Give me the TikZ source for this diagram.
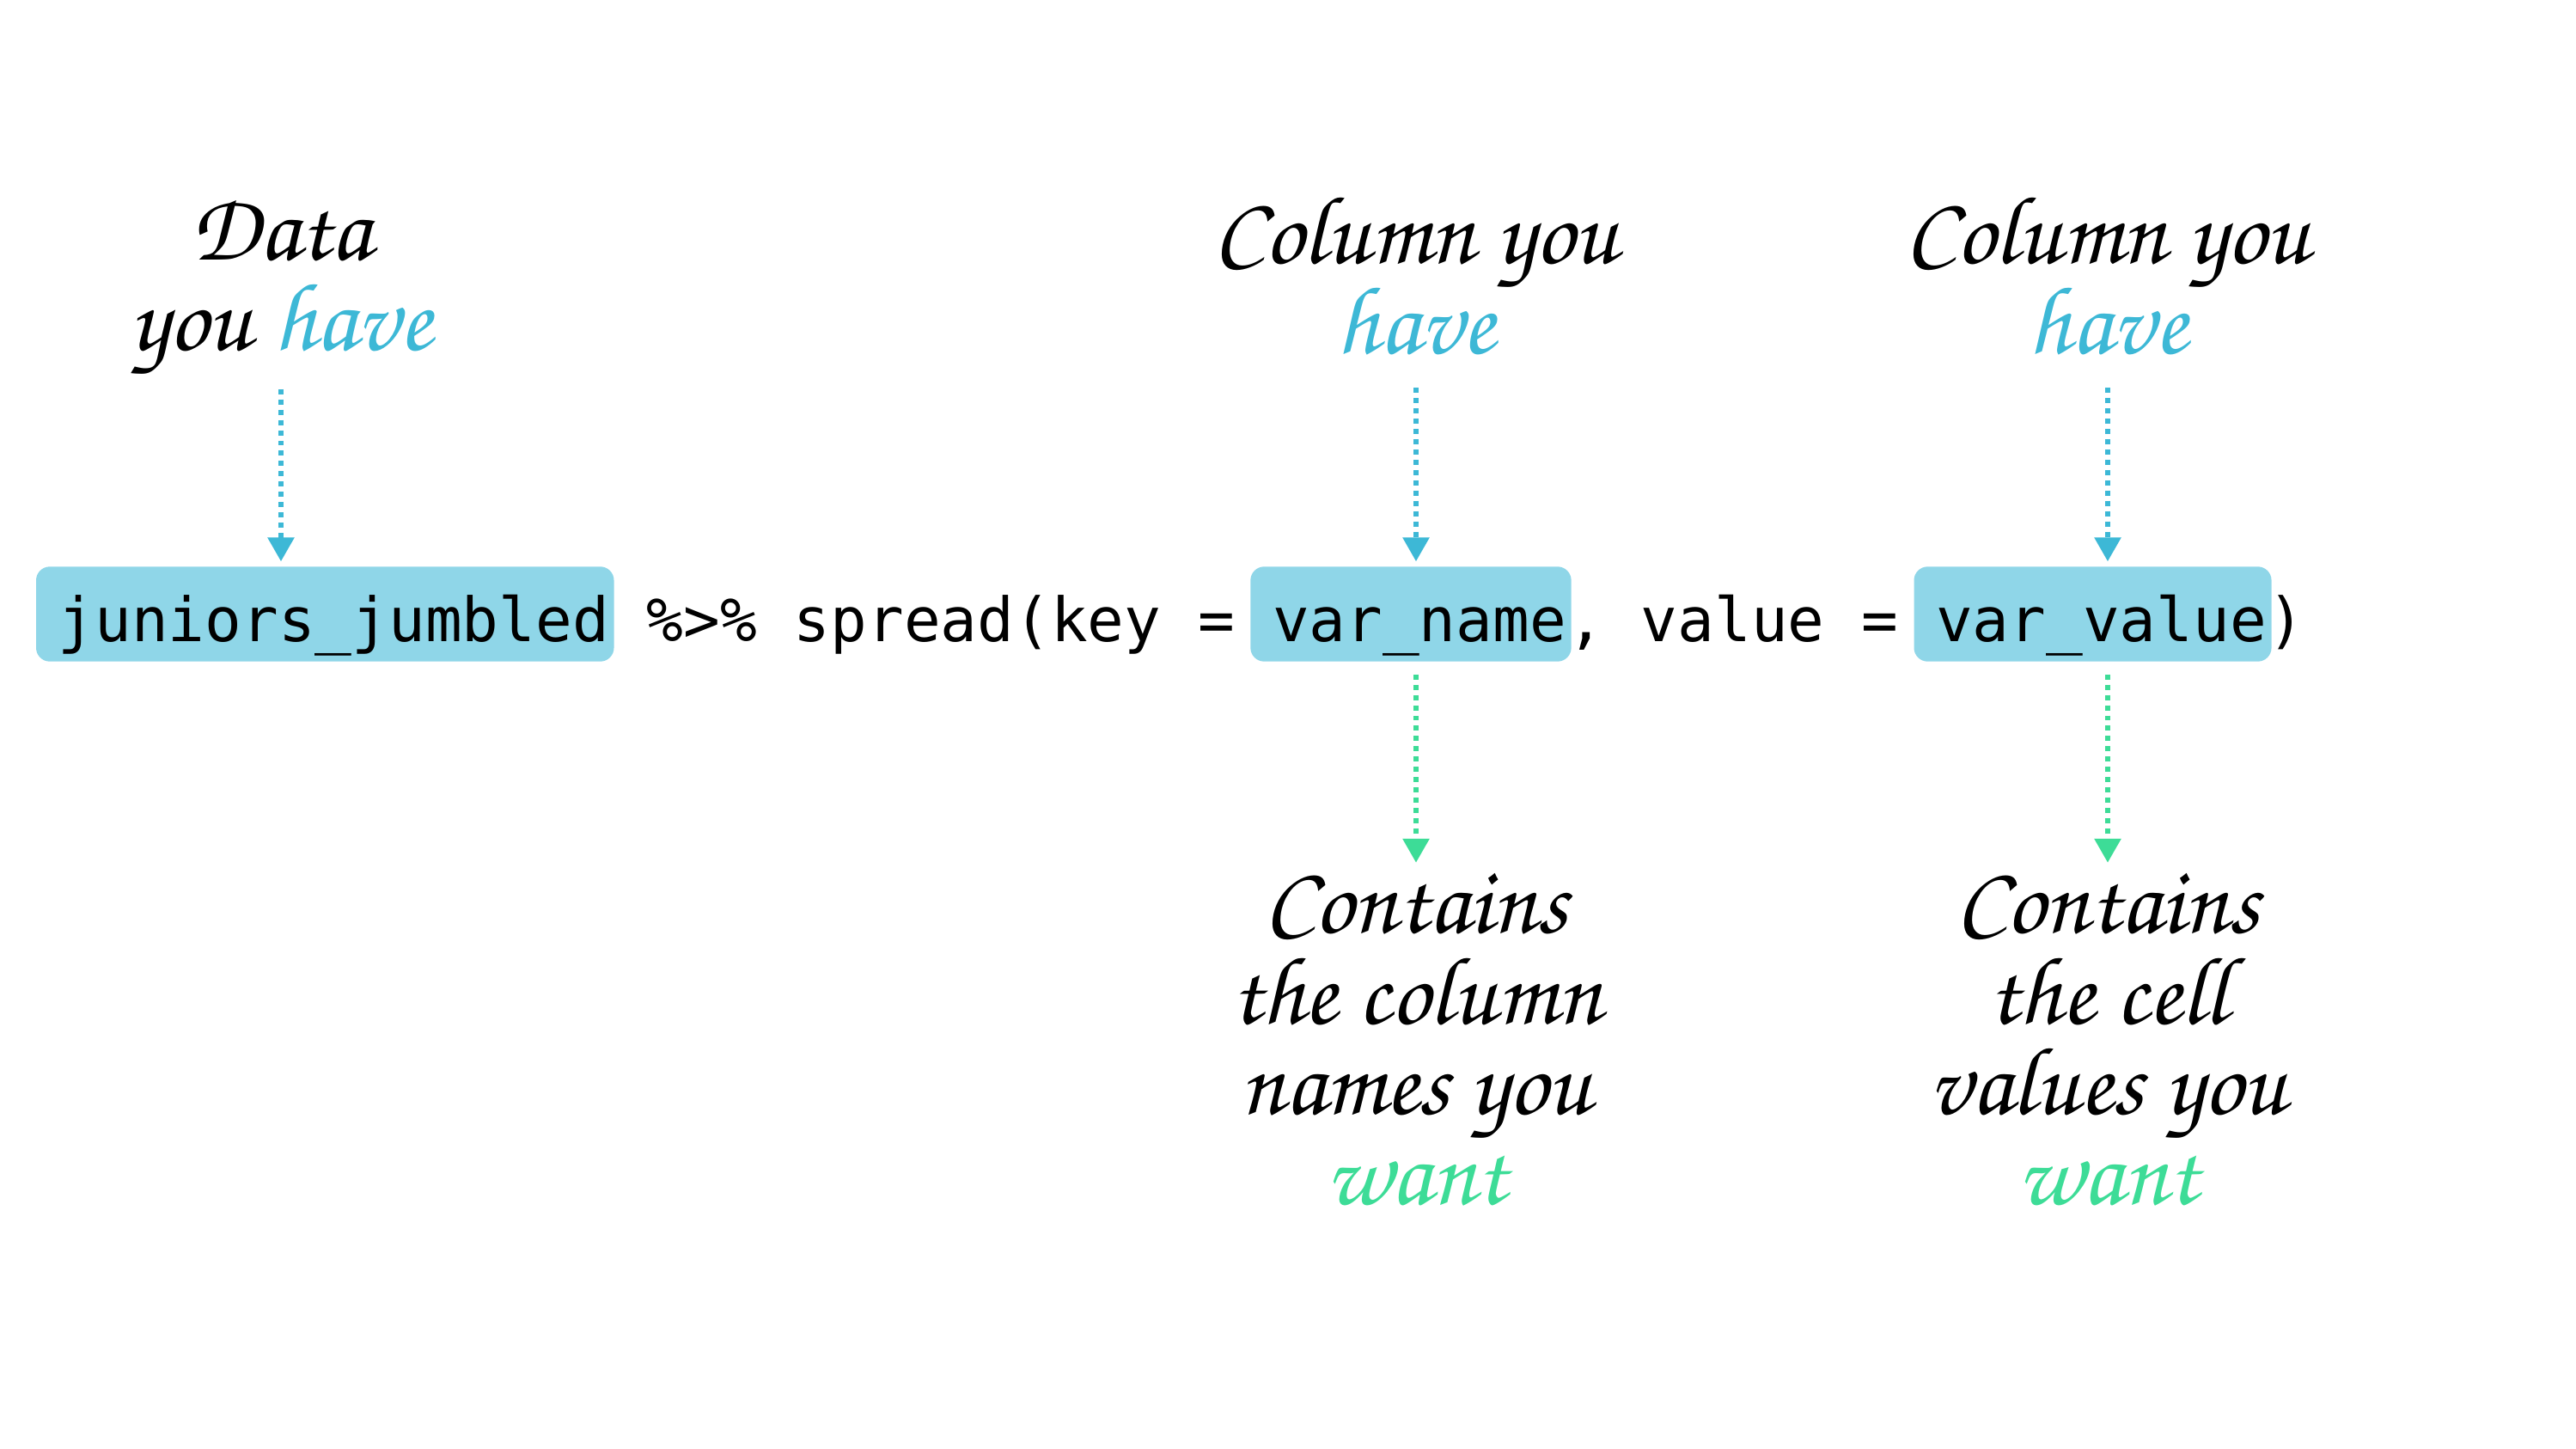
\documentclass[tikz,border=0pt]{standalone}
\usepackage[T1]{fontenc}
\usepackage{fontspec}
\setmonofont{DejaVu Sans Mono}
\usetikzlibrary{positioning,backgrounds,arrows.meta}
\definecolor{hlfill}{RGB}{143,214,232}
\definecolor{haveblue}{RGB}{61,184,214}
\definecolor{wantgreen}{RGB}{61,220,151}
\newcommand{\handfont}{\usefont{T1}{pzc}{mb}{it}\fontsize{32}{30}\selectfont
  \setlength{\lineskiplimit}{-1cm}}
\tikzset{
% code line pieces, all on one baseline
code part/.style={inner sep=0,text height=0.86cm,text depth=0.23cm,
  font=\ttfamily\fontsize{20.2}{24}\selectfont},
% handwritten notes above and below the code
note/.style={align=center,inner sep=0,font=\handfont},
have arrow/.style={draw=haveblue,line width=1.7pt,dash pattern=on 1.7pt off 1.7pt,
  -{Triangle[width=0.3cm,length=0.28cm,fill=haveblue]}},
want arrow/.style={draw=wantgreen,line width=1.7pt,dash pattern=on 1.7pt off 1.7pt,
  -{Triangle[width=0.3cm,length=0.28cm,fill=wantgreen]}}
}

\begin{document}
\begin{tikzpicture}
      \useasboundingbox (0,0) rectangle (29.98,-16.86);
      % The code line
      \node[code part,anchor=base west] (df) at (0.67,-7.46) {juniors\_jumbled};
      \node[code part,right=0pt of df] (pipe) {\ \%>\%\ spread(key\ =\ \null};
      \node[code part,right=0pt of pipe] (key) {var\_name};
      \node[code part,right=0pt of key] (sep) {,\ value\ =\ \null};
      \node[code part,right=0pt of sep] (val) {var\_value};
      \node[code part,right=0pt of val] (close) {)};
      % highlight boxes behind the arguments
      \begin{scope}[on background layer]
        \foreach \n in {df,key,val}
          \fill[hlfill,rounded corners=0.16cm] ([xshift=-0.25cm]\n.north west)
            rectangle ([xshift=0.05cm]\n.south east);
      \end{scope}
      % what you have
      \node[note] (dfnote) at (3.27,-3.35) {Data\\you {\color{haveblue}have}};
      \node[note] (keynote) at (16.48,-3.2) {Column you\\{\color{haveblue}have}};
      \node[note] (valnote) at (24.53,-3.2) {Column you\\{\color{haveblue}have}};
      % what you want
      \node[note] (keywant) at (16.48,-12.1) {Contains\\the column\\names you\\{\color{wantgreen}want}};
      \node[note] (valwant) at (24.53,-12.1) {Contains\\the cell\\values you\\{\color{wantgreen}want}};
      % arrows
      \draw[have arrow,shorten <=0.1cm,shorten >=0.06cm] (dfnote.south) -- (dfnote.south |- df.north);
      \draw[have arrow,shorten <=0.37cm,shorten >=0.06cm] (keynote.south) -- (keynote.south |- key.north);
      \draw[have arrow,shorten <=0.37cm,shorten >=0.06cm] (valnote.south) -- (valnote.south |- val.north);
      \draw[want arrow,shorten <=0.15cm,shorten >=0.12cm] (key.south -| keywant.north) -- (keywant.north);
      \draw[want arrow,shorten <=0.15cm,shorten >=0.12cm] (val.south -| valwant.north) -- (valwant.north);
\end{tikzpicture}
\end{document}
